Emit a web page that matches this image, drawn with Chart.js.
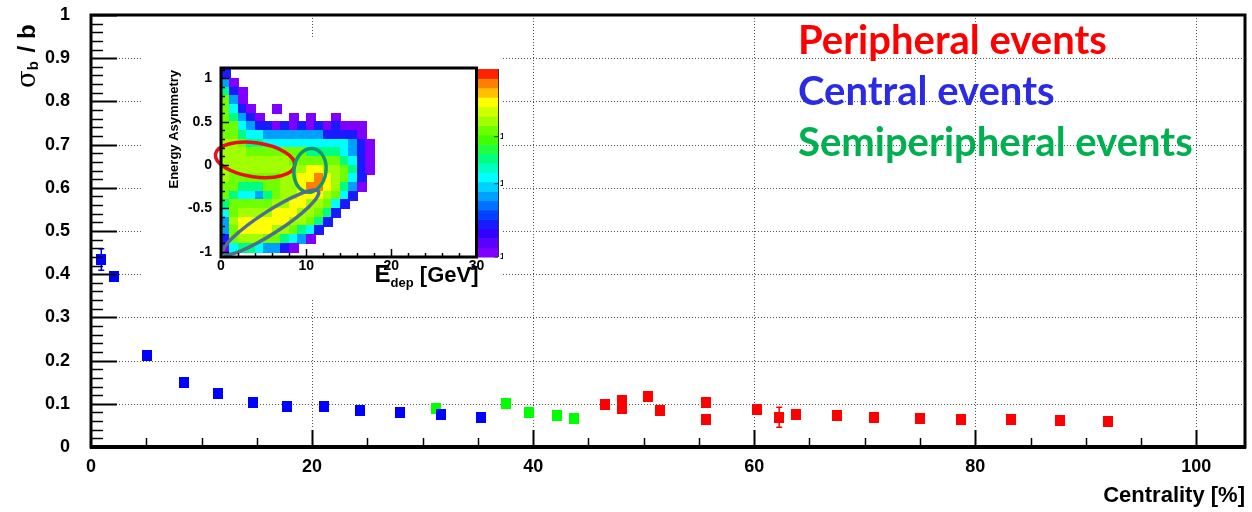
<!DOCTYPE html>
<html>
<head>
<meta charset="utf-8">
<script src="https://cdn.jsdelivr.net/npm/chart.js@4.4.1/dist/chart.umd.min.js"></script>
<style>
  html, body { margin: 0; padding: 0; background: #fff; }
  #wrap { position: relative; width: 1252px; height: 512px; }
  #main { position: absolute; left: 0; top: 0; }
  #inset { position: absolute; left: 142px; top: 39px; }
</style>
</head>
<body>
<div id="wrap">
  <canvas id="main" width="1252" height="512"></canvas>
  <canvas id="inset" width="361" height="259"></canvas>
</div>
<script>
// ---- main plot data (centrality %, sigma_b / b) ----
const centralX   = [0.93, 2.06, 5.06, 8.43, 11.45, 14.67, 17.77, 21.05, 24.3, 27.98, 31.63, 35.3];
const centralY   = [0.434, 0.395, 0.211, 0.149, 0.123, 0.102, 0.093, 0.093, 0.084, 0.081, 0.076, 0.069];
const centralErr = [0.025, 0, 0, 0, 0, 0, 0, 0, 0, 0, 0, 0];

const semiX   = [31.17, 37.56, 39.6, 42.13, 43.7];
const semiY   = [0.090, 0.100, 0.081, 0.072, 0.066];
const semiErr = [0, 0, 0, 0, 0];

const periX   = [46.53, 48.0, 48.0, 50.36, 51.48, 55.66, 55.66, 60.24, 62.26, 63.82, 67.47, 70.84, 74.97, 78.73, 83.19, 87.65, 92.05];
const periY   = [0.099, 0.108, 0.090, 0.116, 0.084, 0.102, 0.063, 0.087, 0.069, 0.076, 0.073, 0.069, 0.066, 0.063, 0.063, 0.061, 0.058];
const periErr = [0, 0, 0, 0, 0, 0, 0, 0, 0.023, 0, 0, 0, 0, 0, 0, 0, 0];

const xTicks = [0, 20, 40, 60, 80, 100];
const yTicks = [0, 0.1, 0.2, 0.3, 0.4, 0.5, 0.6, 0.7, 0.8, 0.9, 1];

const legendLabels = ['Peripheral events', 'Central events', 'Semiperipheral events'];

// ---- inset: Energy Asymmetry vs E_dep (2D histogram, coarse levels 0-9) ----
// rows from A = 1.1 downwards, bins of 0.1; columns E = 0..18 GeV, bins of 1 GeV
const heatRows = [
  '200000000000000000',
  '310000000000000000',
  '521000000000000000',
  '631000000000000000',
  '642100100000000000',
  '653210001010010000',
  '664322121212121110',
  '665443333333222210',
  '776554444444444321',
  '777666666655554321',
  '777777776666665421',
  '777777777788776521',
  '766666677889876420',
  '665556677899875310',
  '654435677888764200',
  '566666778877642000',
  '467777888776520000',
  '378888887765200000',
  '368888776542000000',
  '267776654310000000',
  '145543321000000000'
];
const heatTopA = 1.1;
const heatBinA = 0.1;
const heatBinE = 1;

const insetXTicks = [0, 10, 20, 30];
const insetYTicks = [-1, -0.5, 0, 0.5, 1];
const paletteLabels = ['1', '10', '10'];
const paletteLabelLevels = [0, 0.39, 0.64];

// selection regions drawn on the inset (centre in E [GeV], A)
const regions = [
  { e: 4.0,  a: 0.06,  rx: 40, ry: 17, rot: 8,   color: '#e8101a' },
  { e: 10.45, a: -0.06, rx: 16, ry: 22, rot: 8,  color: '#14966a' },
  { e: 5.83, a: -0.66, rx: 57, ry: 11, rot: -33, color: '#4f6f8e' }
];

const palette = ['#8000ff', '#5a00ff', '#3300ff', '#1a1aff', '#0040ff', '#0070ff', '#00a0ff', '#00d0ff',
  '#00ffff', '#00ffc0', '#00ff80', '#20ff40', '#40ff00', '#70ff00', '#a0ff00', '#d0ff00',
  '#ffff00', '#ffc000', '#ff8000', '#ff2000'];
const levelToPalette = [null, 0, 3, 6, 8, 10, 13, 14, 16, 18];

const boldFont = '"Liberation Sans", Arial, sans-serif';

function marker(color) {
  const c = document.createElement('canvas');
  c.width = 10; c.height = 11;
  const g = c.getContext('2d');
  g.fillStyle = color;
  g.fillRect(0, 0, 10, 11);
  return c;
}

function pts(xs, ys) {
  return xs.map((x, i) => ({ x: x, y: ys[i] }));
}

function noPad(s) {
  s.paddingTop = 0; s.paddingBottom = 0; s.paddingLeft = 0; s.paddingRight = 0;
}

const rootMain = {
  id: 'rootMain',
  beforeDatasetsDraw(chart) {
    const { ctx, chartArea: a, scales: { x, y } } = chart;
    ctx.save();
    // dotted grid
    ctx.strokeStyle = '#555';
    ctx.lineWidth = 1;
    ctx.setLineDash([1, 2]);
    yTicks.forEach(v => {
      if (v <= 0 || v >= 1) return;
      const py = Math.round(y.getPixelForValue(v)) + 0.5;
      ctx.beginPath(); ctx.moveTo(a.left + 28, py); ctx.lineTo(a.right, py); ctx.stroke();
    });
    xTicks.forEach(v => {
      if (v <= 0) return;
      const px = Math.round(x.getPixelForValue(v)) + 0.5;
      ctx.beginPath(); ctx.moveTo(px, a.top); ctx.lineTo(px, a.bottom - 18); ctx.stroke();
    });
    ctx.setLineDash([]);
    // error bars
    chart.data.datasets.forEach(ds => {
      ctx.strokeStyle = ds.errColor;
      ctx.lineWidth = 1.5;
      ds.data.forEach((p, i) => {
        const e = ds.err[i];
        if (!e) return;
        const px = x.getPixelForValue(p.x);
        const y1 = y.getPixelForValue(p.y + e), y2 = y.getPixelForValue(p.y - e);
        ctx.beginPath();
        ctx.moveTo(px, y1); ctx.lineTo(px, y2);
        ctx.moveTo(px - 3, y1); ctx.lineTo(px + 3, y1);
        ctx.moveTo(px - 3, y2); ctx.lineTo(px + 3, y2);
        ctx.stroke();
      });
    });
    ctx.restore();
  },
  afterDraw(chart) {
    const { ctx, chartArea: a, scales: { x, y } } = chart;
    ctx.save();
    ctx.strokeStyle = '#000';
    // ticks on the y axis (inward)
    for (let i = 0; i <= 50; i++) {
      const py = Math.round(y.getPixelForValue(i * 0.02)) + 0.5;
      const len = i % 5 === 0 ? 26 : 12;
      ctx.lineWidth = i % 5 === 0 ? 2 : 1.5;
      ctx.beginPath(); ctx.moveTo(a.left, py); ctx.lineTo(a.left + len, py); ctx.stroke();
    }
    // ticks on the x axis (inward)
    for (let v = 5; v <= 100; v += 5) {
      const px = Math.round(x.getPixelForValue(v)) + 0.5;
      const len = v % 20 === 0 ? 17 : 9;
      ctx.lineWidth = v % 20 === 0 ? 2 : 1.5;
      ctx.beginPath(); ctx.moveTo(px, a.bottom); ctx.lineTo(px, a.bottom - len); ctx.stroke();
    }
    // frame
    ctx.lineWidth = 3;
    ctx.strokeRect(a.left, a.top, a.right - a.left, a.bottom - a.top);
    ctx.lineWidth = 4;
    ctx.beginPath(); ctx.moveTo(a.left - 1, a.bottom); ctx.lineTo(a.right + 1, a.bottom); ctx.stroke();

    // y title: sigma_b / b
    ctx.translate(35, 88);
    ctx.rotate(-Math.PI / 2);
    ctx.fillStyle = '#000';
    ctx.textAlign = 'left';
    ctx.textBaseline = 'alphabetic';
    ctx.font = '26px "DejaVu Serif", serif';
    ctx.fillText('σ', 0, 0);
    let w = ctx.measureText('σ').width;
    ctx.font = 'bold 15px ' + boldFont;
    ctx.fillText('b', w, 3);
    w += ctx.measureText('b').width + 2;
    ctx.font = 'bold 24px ' + boldFont;
    ctx.fillText(' / b', w, 0);
    ctx.setTransform(1, 0, 0, 1, 0, 0);

    // coloured labels
    const colors = ['#ff0000', '#2b2be6', '#00b050'];
    const baselines = [54, 105, 156];
    ctx.font = 'bold 40px Lato, "Open Sans", sans-serif';
    legendLabels.forEach((t, i) => {
      ctx.fillStyle = colors[i];
      ctx.fillText(t, 798, baselines[i]);
    });
    ctx.restore();
  }
};

new Chart(document.getElementById('main'), {
  type: 'scatter',
  data: {
    datasets: [
      { label: 'Central', data: pts(centralX, centralY), err: centralErr, errColor: '#0000ff',
        pointStyle: marker('#0000ff'), pointRadius: 6 },
      { label: 'Semiperipheral', data: pts(semiX, semiY), err: semiErr, errColor: '#00ff00',
        pointStyle: marker('#00ff00'), pointRadius: 6 },
      { label: 'Peripheral', data: pts(periX, periY), err: periErr, errColor: '#ff0000',
        pointStyle: marker('#ff0000'), pointRadius: 6 }
    ]
  },
  options: {
    responsive: false,
    animation: false,
    events: [],
    layout: { padding: { top: 15, right: 5, left: 0, bottom: 0 } },
    plugins: { legend: { display: false }, tooltip: { enabled: false } },
    scales: {
      x: {
        type: 'linear', min: 0, max: 104.4,
        grid: { display: false, drawTicks: false }, border: { display: false },
        afterFit: s => { s.height = 65; noPad(s); },
        afterBuildTicks: s => { s.ticks = xTicks.map(v => ({ value: v })); },
        ticks: { padding: 9, color: '#000', maxRotation: 0, autoSkip: false,
          font: { family: boldFont, size: 18, weight: 'bold' } },
        title: { display: true, text: 'Centrality [%]', align: 'end', color: '#000',
          padding: { top: 0, bottom: 3 },
          font: { family: boldFont, size: 22, weight: 'bold' } }
      },
      y: {
        type: 'linear', min: 0, max: 1,
        grid: { display: false, drawTicks: false }, border: { display: false },
        afterFit: s => { s.width = 91; noPad(s); },
        afterBuildTicks: s => { s.ticks = yTicks.map(v => ({ value: v })); },
        ticks: { padding: 21, color: '#000', autoSkip: false,
          callback: v => String(v),
          font: { family: boldFont, size: 18, weight: 'bold' } }
      }
    }
  },
  plugins: [rootMain]
});

// ---- inset ----
const rootInset = {
  id: 'rootInset',
  beforeDraw(chart) {
    const ctx = chart.ctx;
    ctx.save();
    ctx.fillStyle = '#fff';
    ctx.fillRect(0, 0, chart.width, chart.height);
    ctx.restore();
  },
  beforeDatasetsDraw(chart) {
    const { ctx, chartArea: a, scales: { x, y } } = chart;
    ctx.save();
    ctx.beginPath(); ctx.rect(a.left, a.top, a.right - a.left, a.bottom - a.top); ctx.clip();
    heatRows.forEach((row, r) => {
      const aTop = heatTopA - r * heatBinA;
      const y1 = y.getPixelForValue(aTop), y2 = y.getPixelForValue(aTop - heatBinA);
      for (let c = 0; c < row.length; c++) {
        const lev = +row[c];
        if (!lev) continue;
        const x1 = x.getPixelForValue(c * heatBinE), x2 = x.getPixelForValue((c + 1) * heatBinE);
        ctx.fillStyle = palette[levelToPalette[lev]];
        ctx.fillRect(Math.floor(x1), Math.floor(y1), Math.ceil(x2 - x1) + 1, Math.ceil(y2 - y1) + 1);
      }
    });
    ctx.restore();
  },
  afterDraw(chart) {
    const { ctx, chartArea: a, scales: { x, y } } = chart;
    ctx.save();
    // selection ellipses
    ctx.lineWidth = 3.5;
    regions.forEach(g => {
      ctx.strokeStyle = g.color;
      ctx.beginPath();
      ctx.ellipse(x.getPixelForValue(g.e), y.getPixelForValue(g.a), g.rx, g.ry, g.rot * Math.PI / 180, 0, Math.PI * 2);
      ctx.stroke();
    });
    // ticks
    ctx.strokeStyle = '#000';
    ctx.lineWidth = 1.5;
    for (let i = -10; i <= 11; i++) {
      const py = Math.round(y.getPixelForValue(i * 0.1)) + 0.5;
      const len = i % 5 === 0 ? 8 : 4;
      ctx.beginPath(); ctx.moveTo(a.left, py); ctx.lineTo(a.left + len, py); ctx.stroke();
    }
    for (let v = 2; v < 30; v += 2) {
      const px = Math.round(x.getPixelForValue(v)) + 0.5;
      const len = v % 10 === 0 ? 8 : 4;
      ctx.beginPath(); ctx.moveTo(px, a.bottom); ctx.lineTo(px, a.bottom - len); ctx.stroke();
    }
    // frame
    ctx.lineWidth = 3;
    ctx.strokeRect(a.left, a.top, a.right - a.left, a.bottom - a.top);
    // palette
    const pl = a.right + 1.5, pw = 20, pt = a.top + 1, pb = a.bottom;
    const bh = (pb - pt) / palette.length;
    palette.forEach((c, i) => {
      ctx.fillStyle = c;
      ctx.fillRect(pl, pb - (i + 1) * bh, pw, bh + 0.5);
    });
    ctx.strokeStyle = '#333';
    ctx.lineWidth = 1;
    ctx.beginPath(); ctx.moveTo(pl + pw + 0.5, pt); ctx.lineTo(pl + pw + 0.5, pb); ctx.stroke();
    ctx.fillStyle = '#000';
    ctx.font = 'bold 9px ' + boldFont;
    ctx.textBaseline = 'middle';
    paletteLabels.forEach((t, i) => {
      const py = pb - paletteLabelLevels[i] * (pb - pt);
      ctx.beginPath(); ctx.moveTo(pl + pw - 4, py); ctx.lineTo(pl + pw, py); ctx.stroke();
      ctx.fillText(t, pl + pw + 2, py);
    });
    // axis titles
    ctx.textBaseline = 'alphabetic';
    ctx.font = 'bold 13px ' + boldFont;
    ctx.save();
    ctx.translate(36, a.top + 2);
    ctx.rotate(-Math.PI / 2);
    ctx.textAlign = 'right';
    ctx.fillText('Energy Asymmetry', 0, 0);
    ctx.restore();
    ctx.textAlign = 'left';
    const parts = [['E', 'bold 24px ', 0], ['dep', 'bold 13px ', 5], [' [GeV]', 'bold 22px ', 0]];
    let total = 0;
    parts.forEach(p => { ctx.font = p[1] + boldFont; total += ctx.measureText(p[0]).width; });
    let cx = a.right + 2 - total;
    parts.forEach(p => {
      ctx.font = p[1] + boldFont;
      ctx.fillText(p[0], cx, 243 + p[2]);
      cx += ctx.measureText(p[0]).width;
    });
    ctx.restore();
  }
};

new Chart(document.getElementById('inset'), {
  type: 'scatter',
  data: { datasets: [{ data: [] }] },
  options: {
    responsive: false,
    animation: false,
    events: [],
    layout: { padding: { top: 29, right: 26.5, left: 0, bottom: 0 } },
    plugins: { legend: { display: false }, tooltip: { enabled: false } },
    scales: {
      x: {
        type: 'linear', min: 0, max: 30,
        grid: { display: false, drawTicks: false }, border: { display: false },
        afterFit: s => { s.height = 41; noPad(s); },
        afterBuildTicks: s => { s.ticks = insetXTicks.map(v => ({ value: v })); },
        ticks: { padding: 1, color: '#000', maxRotation: 0, autoSkip: false,
          font: { family: boldFont, size: 14, weight: 'bold' } }
      },
      y: {
        type: 'linear', min: -1.06, max: 1.12,
        grid: { display: false, drawTicks: false }, border: { display: false },
        afterFit: s => { s.width = 79; noPad(s); },
        afterBuildTicks: s => { s.ticks = insetYTicks.map(v => ({ value: v })); },
        ticks: { padding: 9, color: '#000', autoSkip: false,
          callback: v => String(v),
          font: { family: boldFont, size: 14, weight: 'bold' } }
      }
    }
  },
  plugins: [rootInset]
});
</script>
</body>
</html>
